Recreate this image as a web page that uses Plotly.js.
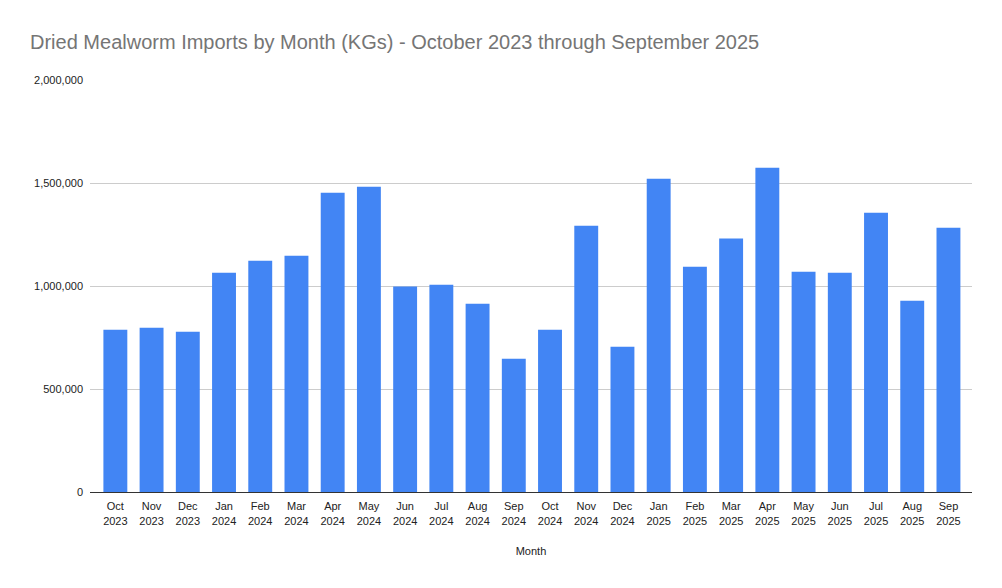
<!DOCTYPE html>
<html>
<head>
<meta charset="utf-8">
<script src="https://cdn.plot.ly/plotly-3.0.1.min.js"></script>
<style>
  html, body { margin: 0; padding: 0; background: #fff; }
  #chart { width: 1002px; height: 588px; }
</style>
</head>
<body>
<div id="chart"></div>
<script>
// Monthly imports, Oct 2023 - Sep 2025 (KGs)
const months = ['Oct', 'Nov', 'Dec', 'Jan', 'Feb', 'Mar', 'Apr', 'May', 'Jun', 'Jul', 'Aug', 'Sep',
                'Oct', 'Nov', 'Dec', 'Jan', 'Feb', 'Mar', 'Apr', 'May', 'Jun', 'Jul', 'Aug', 'Sep'];
const years = ['2023', '2023', '2023', '2024', '2024', '2024', '2024', '2024', '2024', '2024', '2024', '2024',
               '2024', '2024', '2024', '2025', '2025', '2025', '2025', '2025', '2025', '2025', '2025', '2025'];
const importsKg = [788000, 797000, 778000, 1064000, 1123000, 1147000, 1453000, 1482000, 997000, 1006000, 914000, 647000,
                   788000, 1293000, 705000, 1521000, 1094000, 1230000, 1574000, 1069000, 1064000, 1356000, 929000, 1283000];
const yTicks = [0, 500000, 1000000, 1500000, 2000000];

const labels = months.map((m, i) => m + '<br>' + years[i]);

const trace = {
  type: 'bar',
  x: labels,
  y: importsKg,
  marker: { color: '#4285F4' },
  hovertemplate: '%{y:,}<extra></extra>'
};

const layout = {
  width: 1002,
  height: 588,
  font: { family: 'Liberation Sans, Arial, sans-serif', size: 11, color: '#222' },
  title: {
    text: 'Dried Mealworm Imports by Month (KGs) - October 2023 through September 2025',
    font: { size: 20, color: '#757575' },
    x: 30 / 1002, xanchor: 'left', xref: 'container',
    y: 0.928, yanchor: 'middle'
  },
  margin: { l: 90, r: 30, t: 80, b: 96 },
  bargap: 0.34,
  xaxis: {
    type: 'category',
    range: [-0.7, labels.length - 0.35],
    showgrid: false,
    showline: true,
    linecolor: '#333',
    linewidth: 1,
    ticks: '',
    ticklabelstandoff: 4,
    tickfont: { size: 11, color: '#222' },
    title: { text: 'Month', font: { size: 11, color: '#222' }, standoff: 21 }
  },
  yaxis: {
    range: [0, 2000000],
    tickvals: yTicks,
    tickformat: ',',
    showgrid: true,
    gridcolor: '#cccccc',
    zeroline: false,
    ticks: '',
    ticklabelstandoff: 6,
    tickfont: { size: 11, color: '#222' }
  },
  plot_bgcolor: '#fff',
  paper_bgcolor: '#fff',
  showlegend: false
};

Plotly.newPlot('chart', [trace], layout, { displayModeBar: false, staticPlot: true });
</script>
</body>
</html>
